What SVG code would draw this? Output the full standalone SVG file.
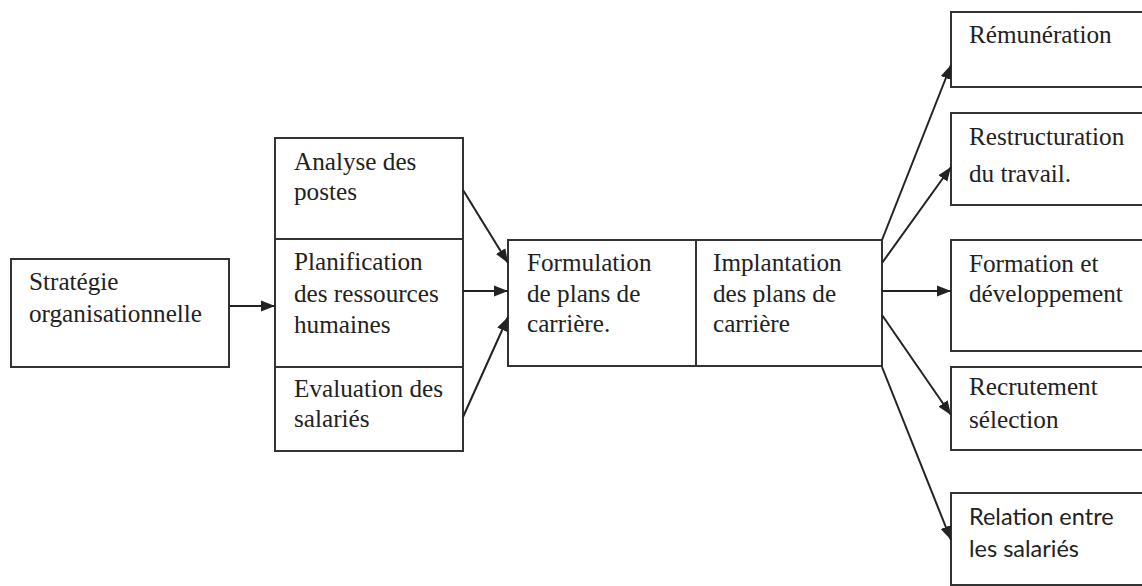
<svg xmlns="http://www.w3.org/2000/svg" width="1142" height="586" viewBox="0 0 1142 586">
  <style>
    .box { fill: #ffffff; stroke: #333333; stroke-width: 2; }
    .lbl { font-family: "Liberation Serif", "Times New Roman", serif; font-size: 25.2px; fill: #222222; }
    .lbl-sans { font-family: "Lato", "Liberation Sans", sans-serif; font-size: 23.5px; fill: #222222; }
    .conn { stroke: #222222; stroke-width: 2; fill: none; marker-end: url(#arrow); }
  </style>
  <defs>
    <marker id="arrow" markerUnits="userSpaceOnUse" markerWidth="14" markerHeight="12" refX="14" refY="6" orient="auto">
      <path d="M0,0.5 L14,6 L0,11.5 z" fill="#222222"/>
    </marker>
  </defs>
  <rect width="1142" height="586" fill="#ffffff"/>

  <g id="strategie">
    <rect class="box" x="11" y="259" width="218" height="108"/>
    <text class="lbl" x="29" y="290">Stratégie</text>
    <text class="lbl" x="29" y="322">organisationnelle</text>
  </g>

  <g id="analyse">
    <rect class="box" x="275" y="138" width="188" height="101"/>
    <text class="lbl" x="294" y="170">Analyse des</text>
    <text class="lbl" x="294" y="200">postes</text>
  </g>
  <g id="planification">
    <rect class="box" x="275" y="239" width="188" height="128"/>
    <text class="lbl" x="294" y="270">Planification</text>
    <text class="lbl" x="294" y="302">des ressources</text>
    <text class="lbl" x="294" y="333">humaines</text>
  </g>
  <g id="evaluation">
    <rect class="box" x="275" y="367" width="188" height="84"/>
    <text class="lbl" x="294" y="397">Evaluation des</text>
    <text class="lbl" x="294" y="427">salariés</text>
  </g>

  <g id="formulation">
    <rect class="box" x="508" y="240" width="188" height="126"/>
    <text class="lbl" x="527" y="271">Formulation</text>
    <text class="lbl" x="527" y="302">de plans de</text>
    <text class="lbl" x="527" y="332">carrière.</text>
  </g>
  <g id="implantation">
    <rect class="box" x="696" y="240" width="186" height="126"/>
    <text class="lbl" x="713" y="271">Implantation</text>
    <text class="lbl" x="713" y="302">des plans de</text>
    <text class="lbl" x="713" y="332">carrière</text>
  </g>

  <g id="remuneration">
    <rect class="box" x="951" y="12" width="220" height="75"/>
    <text class="lbl" x="969" y="43">Rémunération</text>
  </g>
  <g id="restructuration">
    <rect class="box" x="951" y="113" width="220" height="92"/>
    <text class="lbl" x="969" y="145">Restructuration</text>
    <text class="lbl" x="969" y="182">du travail.</text>
  </g>
  <g id="formation">
    <rect class="box" x="951" y="240" width="220" height="111"/>
    <text class="lbl" x="969" y="272">Formation et</text>
    <text class="lbl" x="969" y="302">développement</text>
  </g>
  <g id="recrutement">
    <rect class="box" x="951" y="367" width="220" height="83"/>
    <text class="lbl" x="969" y="395">Recrutement</text>
    <text class="lbl" x="969" y="428">sélection</text>
  </g>
  <g id="relation">
    <rect class="box" x="951" y="493" width="220" height="92"/>
    <text class="lbl-sans" x="969" y="525">Relation entre</text>
    <text class="lbl-sans" x="969" y="557">les salariés</text>
  </g>

  <g id="connectors">
    <line class="conn" x1="229" y1="306" x2="275" y2="306"/>
    <line class="conn" x1="463" y1="190" x2="508" y2="263"/>
    <line class="conn" x1="463" y1="291" x2="508" y2="291"/>
    <line class="conn" x1="463" y1="417" x2="508" y2="317"/>
    <line class="conn" x1="882" y1="240" x2="951" y2="65"/>
    <line class="conn" x1="882" y1="263" x2="951" y2="167"/>
    <line class="conn" x1="882" y1="291" x2="951" y2="291"/>
    <line class="conn" x1="882" y1="315" x2="951" y2="415"/>
    <line class="conn" x1="882" y1="367" x2="951" y2="540"/>
  </g>
</svg>
